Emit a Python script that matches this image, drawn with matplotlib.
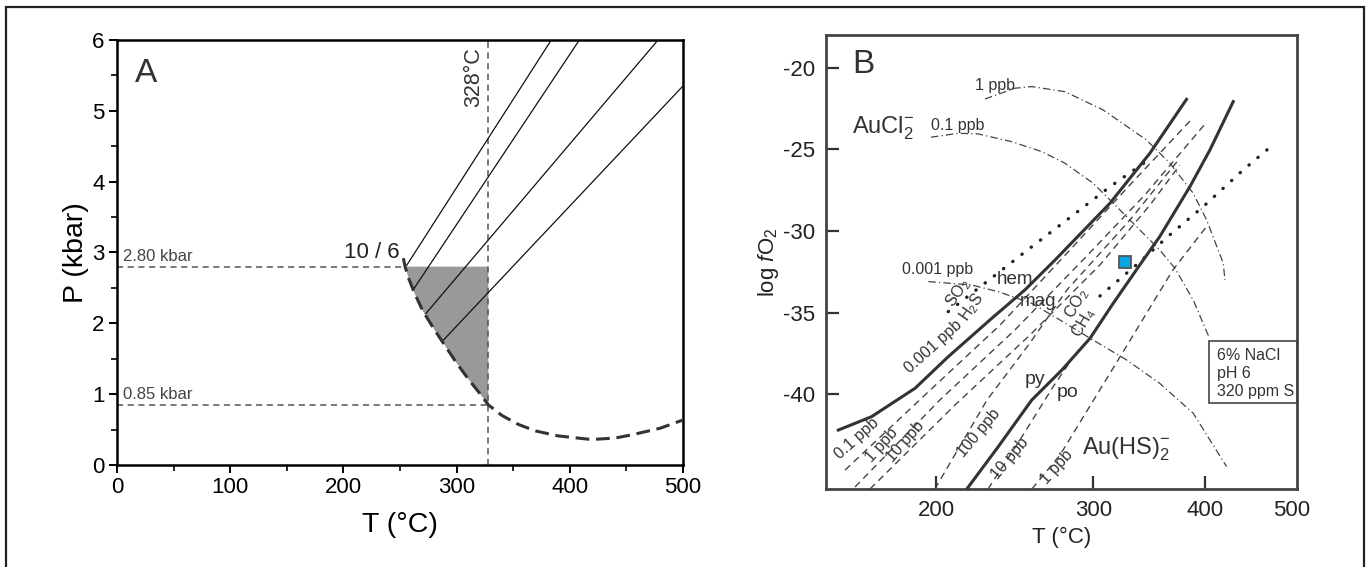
import numpy as np
import matplotlib.pyplot as plt
from matplotlib.patches import Rectangle
from matplotlib.ticker import MultipleLocator, NullLocator

plt.rcParams['font.family'] = ['Liberation Sans', 'DejaVu Sans']
plt.rcParams['mathtext.fontset'] = 'custom'
plt.rcParams['mathtext.rm'] = 'Liberation Sans'
plt.rcParams['mathtext.it'] = 'Liberation Sans:italic'
plt.rcParams['axes.unicode_minus'] = False

# ---- panel A : P-T diagram ----
curve_T = [253, 254.5, 258, 263, 270, 280, 290, 300, 311, 320, 328,
           340, 355, 370, 390, 419, 440, 456, 480, 500]
curve_P = [2.92, 2.80, 2.62, 2.42, 2.18, 1.92, 1.68, 1.44, 1.20, 1.02, 0.85,
           0.70, 0.57, 0.48, 0.41, 0.36, 0.38, 0.43, 0.52, 0.635]
iso_T0 = [256, 261.5, 273, 287]
iso_P0 = [2.82, 2.47, 2.14, 1.74]
iso_T1 = [383.7, 408.5, 478, 500]
iso_P1 = [6.0, 6.0, 6.0, 5.35]
P_high = 2.80
P_low = 0.85
T_hom = 328

# ---- panel B : log fO2 - T diagram ----
hm_T = [155.5, 169.4, 189.5, 206.4, 230.9, 251.5, 271.8, 313.2, 347.1, 381.5]
hm_f = [-42.19, -41.37, -39.63, -37.70, -35.35, -33.61, -31.78, -28.30, -25.24, -21.94]
pp_T = [216.4, 234.8, 256.0, 276.7, 297.5, 315.8, 341.2, 356.0, 384.8, 405.2, 430.3]
pp_f = [-45.82, -43.21, -40.35, -38.51, -36.57, -34.43, -31.78, -30.35, -27.29, -25.04, -22.08]

cl1_T = [226.9, 245.1, 256.0, 278.8, 307.7, 344.1, 365.4, 388.1, 401.8, 419.4, 421.2]
cl1_f = [-21.92, -21.26, -21.16, -21.47, -22.59, -24.43, -25.85, -27.69, -29.33, -31.98, -33.0]
cl01_T = [197.4, 211.8, 223.0, 243.0, 262.6, 278.8, 299.9, 315.8, 332.5, 356.0, 370.2, 388.1, 404.2]
cl01_f = [-24.26, -24.02, -24.06, -24.53, -25.14, -25.85, -27.08, -28.30, -29.53, -31.16, -32.28, -34.23, -36.49]
cl0001_T = [196.1, 219.3, 234.8, 256.0, 275.3, 297.5, 326.9, 356.0, 388.1, 423.0]
cl0001_f = [-33.10, -33.31, -33.72, -34.43, -35.45, -36.57, -37.90, -39.33, -41.16, -44.43]

so2_T = [206.4, 229.8, 250.4, 280.1, 313.2, 341.8]
so2_f = [-34.94, -32.96, -31.37, -29.33, -27.29, -25.84]
co2_T = [305.2, 336.8, 365.4, 398.3, 441.5, 479.0]
co2_f = [-33.98, -31.98, -30.24, -28.51, -26.26, -24.63]

py01_T = [158.2, 194.4, 235.9, 282.5, 329.7, 387.8]
py01_f = [-44.64, -40.04, -35.76, -31.16, -27.18, -23.08]
py1_T = [162.3, 202.0, 245.1, 293.6, 342.7, 401.0]
py1_f = [-45.68, -40.35, -36.06, -31.65, -27.79, -23.39]
py10_T = [168.7, 210.0, 254.8, 305.2, 347.2, 375.0]
py10_f = [-45.80, -40.66, -36.37, -32.08, -28.41, -25.96]
py100_T = [199.4, 228.1, 254.8, 280.3, 329.7, 372.1]
py100_f = [-45.80, -40.35, -36.86, -33.61, -29.33, -25.77]
po10_T = [228.7, 248.3, 270.4, 288.4]
po10_f = [-45.80, -42.80, -39.55, -37.29]
po1_T = [256.1, 275.3, 321.3, 368.3, 403.0]
po1_f = [-45.80, -43.72, -37.72, -32.39, -29.63]

sample_T = [325.7]
sample_f = [-31.93]

fig = plt.figure(figsize=(13.7, 5.67), dpi=100)

# frame around the whole figure
fig.patches.append(Rectangle((0.0045, -0.02), 0.991, 1.007, transform=fig.transFigure,
                             fill=False, lw=1.6, ec='#222222'))

# ================= A =================
axA = fig.add_axes([0.0854, 0.1799, 0.4131, 0.7496])
gray = '#555555'

# shaded field between curve, 2.80 kbar and 328 C
i0 = curve_P.index(P_high)
i1 = curve_T.index(T_hom)
poly_T = curve_T[i0:i1 + 1] + [T_hom]
poly_P = curve_P[i0:i1 + 1] + [P_high]
axA.fill(poly_T, poly_P, color='#999999', lw=0, zorder=1)

axA.plot([0, curve_T[i0]], [P_high, P_high], ls=(0, (4, 3)), color=gray, lw=1.1, zorder=2)
axA.plot([0, T_hom], [P_low, P_low], ls=(0, (4, 3)), color=gray, lw=1.1, zorder=2)
axA.plot([T_hom, T_hom], [0, 6], ls=(0, (4, 3)), color=gray, lw=1.1, zorder=2)

for t0, p0, t1, p1 in zip(iso_T0, iso_P0, iso_T1, iso_P1):
    axA.plot([t0, t1], [p0, p1], color='#111111', lw=0.9, zorder=3)

axA.plot(curve_T, curve_P, ls=(0, (4.5, 2.2)), color='#333333', lw=2.2, zorder=4)

axA.text(5, P_high + 0.04, '2.80 kbar', fontsize=12, color='#444444', va='bottom', ha='left')
axA.text(5, P_low + 0.04, '0.85 kbar', fontsize=12, color='#444444', va='bottom', ha='left')
axA.text(315, 5.48, '328°C', rotation=90, fontsize=15.5, color='#333333', ha='center', va='center')
axA.text(225, 3.0, '10 / 6', fontsize=16, color='#222222', ha='center', va='center')
axA.text(25.6, 5.53, 'A', fontsize=24, color='#333333', ha='center', va='center')

axA.set_xlim(0, 500)
axA.set_ylim(0, 6)
axA.xaxis.set_major_locator(MultipleLocator(100))
axA.xaxis.set_minor_locator(MultipleLocator(50))
axA.yaxis.set_major_locator(MultipleLocator(1))
axA.yaxis.set_minor_locator(MultipleLocator(0.5))
axA.tick_params(which='major', direction='out', length=6, width=1.4, labelsize=16, pad=3)
axA.tick_params(which='minor', direction='out', length=4, width=1.2)
for s in axA.spines.values():
    s.set_linewidth(1.8)
axA.set_xlabel('T (°C)', fontsize=20.5, labelpad=10)
axA.set_ylabel('P (kbar)', fontsize=20.5, labelpad=2)

# ================= B =================
axB = fig.add_axes([0.6029, 0.1370, 0.3436, 0.8013])
axB.set_xscale('log')
dk = '#333333'
dd = '#444444'
dashdot = (0, (6, 2.5, 1, 2.5))
dashed = (0, (5, 3.5))
dotted = (0, (0.1, 3.4))

axB.plot(hm_T, hm_f, color=dk, lw=2.2, zorder=4)
axB.plot(pp_T, pp_f, color=dk, lw=2.2, zorder=4)

for T, f in [(cl1_T, cl1_f), (cl01_T, cl01_f), (cl0001_T, cl0001_f)]:
    axB.plot(T, f, color=dd, lw=0.9, ls=dashdot, zorder=3)
for T, f in [(py01_T, py01_f), (py1_T, py1_f), (py10_T, py10_f), (py100_T, py100_f),
             (po10_T, po10_f), (po1_T, po1_f)]:
    axB.plot(T, f, color=dd, lw=1.0, ls=dashed, zorder=3)
for T, f in [(so2_T, so2_f), (co2_T, co2_f)]:
    axB.plot(T, f, color='#222222', lw=2.4, ls=dotted, dash_capstyle='round', zorder=3)

axB.plot(sample_T, sample_f, 's', ms=9, mfc='#08A6E2', mec='#555555', mew=1.3, zorder=6)

tc = '#333333'
axB.text(161.1, -19.83, 'B', fontsize=24, color=tc, ha='left', va='center')
axB.text(161.1, -23.69, r'AuCl$_2^{-}$', fontsize=17, color=tc, ha='left', va='center')
axB.text(291.1, -43.35, r'Au(HS)$_2^{-}$', fontsize=17, color=tc, ha='left', va='center')
axB.text(232.8, -21.12, '1 ppb', fontsize=11.5, color=tc, ha='center', va='center')
axB.text(211.7, -23.57, '0.1 ppb', fontsize=11.5, color=tc, ha='center', va='center')
axB.text(200.7, -32.39, '0.001 ppb', fontsize=11.5, color=tc, ha='center', va='center')
axB.text(198.6, -37.08, '0.001 ppb', fontsize=11.5, color=tc, ha='center', va='center', rotation=42)
axB.text(163.0, -42.69, '0.1 ppb', fontsize=11.5, color=tc, ha='center', va='center', rotation=42)
axB.text(173.9, -43.10, '1 ppb', fontsize=11.5, color=tc, ha='center', va='center', rotation=48)
axB.text(184.6, -42.90, '10 ppb', fontsize=11.5, color=tc, ha='center', va='center', rotation=49)
axB.text(223.5, -42.37, '100 ppb', fontsize=11.5, color=tc, ha='center', va='center', rotation=50)
axB.text(242.0, -43.92, '10 ppb', fontsize=11.5, color=tc, ha='center', va='center', rotation=50)
axB.text(272.9, -44.43, '1 ppb', fontsize=11.5, color=tc, ha='center', va='center', rotation=48)
axB.text(211.8, -33.81, r'SO$_2$', fontsize=11.5, color=tc, ha='center', va='center', rotation=55)
axB.text(219.2, -34.64, r'H$_2$S', fontsize=11.5, color=tc, ha='center', va='center', rotation=55)
axB.text(287.3, -34.43, r'CO$_2$', fontsize=11.5, color=tc, ha='center', va='center', rotation=60)
axB.text(292.3, -35.65, r'CH$_4$', fontsize=11.5, color=tc, ha='center', va='center', rotation=60)
axB.text(245.1, -33.0, 'hem', fontsize=13.5, color=tc, ha='center', va='center')
axB.text(260.4, -34.33, 'mag', fontsize=13.5, color=tc, ha='center', va='center')
axB.text(258.1, -39.12, 'py', fontsize=14, color=tc, ha='center', va='center')
axB.text(280.5, -39.90, 'po', fontsize=14, color=tc, ha='center', va='center')

axB.add_patch(Rectangle((404.1, -40.51), 506.8 - 404.1, 3.77, fill=False,
                        ec='#444444', lw=1.2, zorder=5))
for yv, s in zip([-37.64, -38.71, -39.84], ['6% NaCl', 'pH 6', '320 ppm S']):
    axB.text(412.8, yv, s, fontsize=11.5, color=tc, ha='left', va='center', zorder=5)

axB.set_xlim(150.6, 506.8)
axB.set_ylim(-45.82, -18.0)
axB.set_xticks([200, 300, 400, 500], labels=['200', '300', '400', '500'])
axB.xaxis.set_minor_locator(NullLocator())
axB.set_yticks([-20, -25, -30, -35, -40])
axB.tick_params(direction='in', length=9.5, width=1.6, labelsize=16, pad=8,
                color='#333333', labelcolor='#222222')
axB.xaxis.get_major_ticks()[3].tick1line.set_visible(False)
for s in axB.spines.values():
    s.set_linewidth(2.0)
    s.set_color('#444444')
axB.set_xlabel('T (°C)', fontsize=16, labelpad=4, color='#222222')
axB.set_ylabel(r'log $f$O$_2$', fontsize=16, labelpad=1, color='#222222')

fig.savefig('out.png', dpi=100)
